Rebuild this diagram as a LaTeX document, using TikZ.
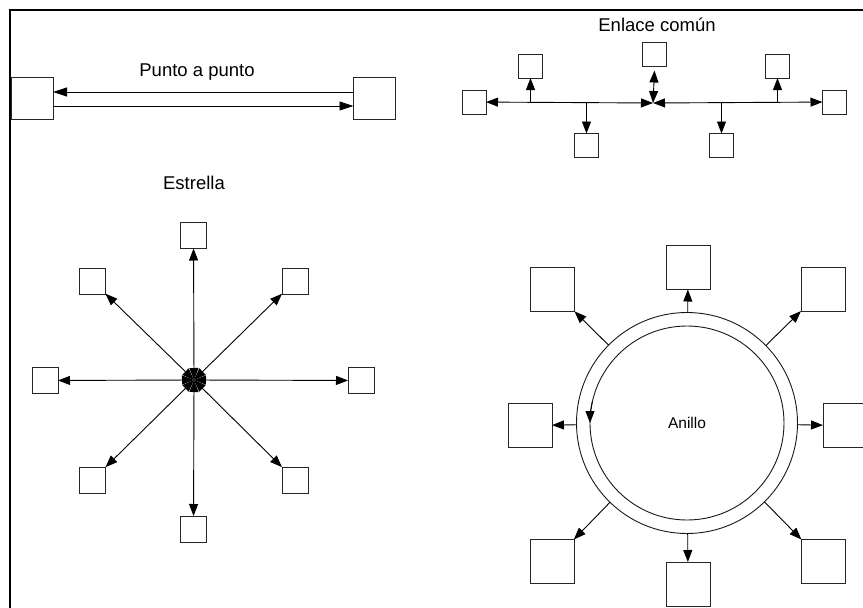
\documentclass[tikz,border=0pt]{standalone}
\usepackage{fontspec}
\setmainfont{Liberation Sans}
\usetikzlibrary{arrows.meta,positioning}

\begin{document}
\begin{tikzpicture}[
    x=1pt, y=-1pt,
    box/.style={rectangle, draw=black!85, line width=0.9pt, fill=white, inner sep=0pt, outer sep=0pt},
    ringline/.style={circle, draw=black!90, line width=0.9pt, inner sep=0pt, outer sep=0pt},
    link/.style={line width=0.9pt, {Triangle[length=12pt,width=9pt]}-{Triangle[length=12pt,width=9pt]}},
    feed/.style={line width=0.9pt, -{Triangle[length=12pt,width=9pt]}},
    title/.style={font=\fontsize{18.5}{20}\selectfont}
  ]
  \useasboundingbox (0,0) rectangle (863,608);
  \clip (0,0) rectangle (863,608);
  \draw[line width=1.8pt] (10,10) rectangle (900,650);

  % punto a punto
  \node[title] (ptitle) at (197,72) {Punto a punto};
  \node[box, minimum size=42pt] (pa) at (32,98.5) {};
  \node[box, minimum size=42pt] (pb) at (374.5,98.5) {};
  \draw[feed, -{Triangle[length=14pt,width=9pt]}] ([yshift=6.5pt]pb.west) -- ([yshift=6.5pt]pa.east);
  \draw[feed, -{Triangle[length=14pt,width=9pt]}] ([yshift=-7.5pt]pa.east) -- ([yshift=-7.5pt]pb.west);

  % enlace comun (bus)
  \node[title] (btitle) at (657,25) {Enlace común};
  \coordinate (bc) at (653,103);
  \foreach \n/\x/\y in {btop/654.5/54.5, btl/530.5/66, btr/777.5/66, bleft/474/102,
                        bright/834.5/102, bbl/586.5/145.5, bbr/721.5/145.5}
    \node[box, minimum size=24pt] (\n) at (\x,\y) {};
  \draw[link] (bc) -- (bleft);
  \draw[link] (bc) -- (bright);
  \draw[link] (bc) -- ([yshift=-4pt]btop.south);
  \foreach \n in {btl,btr,bbl,bbr}
    \draw[feed] (\n |- bc) -- (\n);

  % estrella
  \node[title] (stitle) at (194,183) {Estrella};
  \coordinate (hub) at (194,380);
  \foreach \n/\x/\y in {n/193.5/235.5, ne/295/281, e/361/380.5, se/295/480,
                        s/193.5/529, sw/92.5/480, w/45/380.5, nw/92.5/281} {
    \node[box, minimum size=26pt] (s\n) at (\x,\y) {};
    \draw[link] (hub) -- (s\n);
  }

  % anillo
  \node[ringline, minimum size=221pt] (ring) at (687,423) {};
  \node[ringline, minimum size=194pt, font=\fontsize{15.5}{17}\selectfont] (core) at (687,423) {Anillo};
  \draw[feed] (core.167) arc[start angle=193, end angle=180, radius=97];
  \foreach \n/\x/\y in {n/688/267.5, ne/823/289.5, e/845/425.5, se/823/561.5,
                        s/688/584, sw/552.5/561.5, w/530/425.5, nw/552.5/289.5} {
    \node[box, minimum size=44pt] (r\n) at (\x,\y) {};
    \draw[feed] (ring) -- (r\n);
  }
\end{tikzpicture}
\end{document}
